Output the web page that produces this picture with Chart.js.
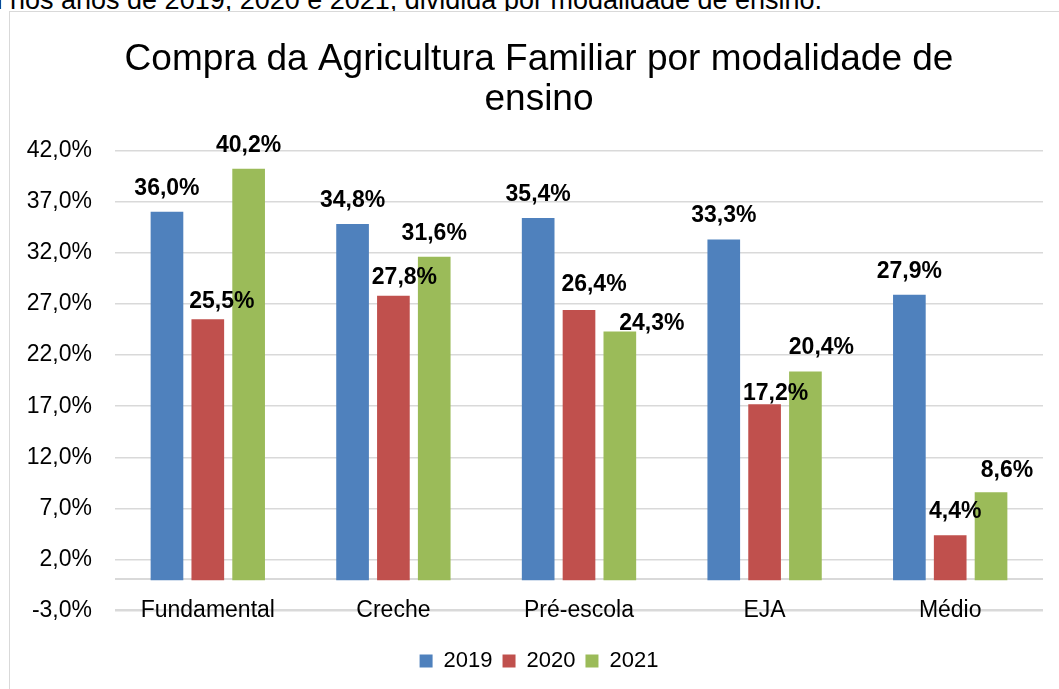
<!DOCTYPE html>
<html>
<head>
<meta charset="utf-8">
<script src="https://cdn.jsdelivr.net/npm/chart.js@4.4.1/dist/chart.umd.min.js"></script>
<style>
  html, body { margin: 0; padding: 0; background: #fff; overflow: hidden; width: 1059px; height: 689px; }
  #caption { position: absolute; left: -20px; top: -15px; font: 27px "Liberation Sans", Arial, sans-serif; color: #000; white-space: nowrap; }
  #box { position: absolute; left: 9px; top: 11px; width: 1060px; height: 700px; border: 1px solid #d9d9d9; background: #fff; }
  #chart { display: block; }
</style>
</head>
<body>
<div id="caption">m nos anos de 2019, 2020 e 2021, dividida por modalidade de ensino.</div>
<div id="box"><canvas id="chart" width="1058" height="678"></canvas></div>
<script>
const categories = ["Fundamental", "Creche", "Pré-escola", "EJA", "Médio"];
const years = ["2019", "2020", "2021"];
const values2019 = [36.0, 34.8, 35.4, 33.3, 27.9];
const values2020 = [25.5, 27.8, 26.4, 17.2, 4.4];
const values2021 = [40.2, 31.6, 24.3, 20.4, 8.6];
const yTicks = [-3, 2, 7, 12, 17, 22, 27, 32, 37, 42];

const colors = ['#4f81bd', '#c0504d', '#9bbb59'];
const FONT = '"Liberation Sans", Arial, sans-serif';

// label nudges (dx, dy) like the hand-placed excel labels
const nudge = [
  [[0, 0], [0, 0], [0, 0], [0, 0], [0, 0]],
  [[14, 6], [11, 5], [15, -2], [11, 13], [5, 0]],
  [[0, 0], [0, 0], [32, 15], [16, 0], [16, 2]]
];

const fmt = v => v.toFixed(1).replace('.', ',') + '%';

function hLine(chart, value, width, color) {
  const { ctx, chartArea, scales } = chart;
  const y = Math.round(scales.y.getPixelForValue(value)) - 1;
  ctx.save();
  ctx.strokeStyle = color;
  ctx.lineWidth = width;
  ctx.beginPath();
  ctx.moveTo(chartArea.left, y);
  ctx.lineTo(chartArea.right, y);
  ctx.stroke();
  ctx.restore();
}

// zero baseline and the -3% gridline
const extraLines = {
  id: 'extraLines',
  beforeDatasetsDraw(chart) {
    hLine(chart, 0, 2, '#d9d9d9');
    hLine(chart, yTicks[0], 2, '#d9d9d9');
  }
};

// category names sit on the -3% gridline, as in the excel chart
const categoryLabels = {
  id: 'categoryLabels',
  afterDraw(chart) {
    const { ctx, scales } = chart;
    const y = scales.y.getPixelForValue(yTicks[0]) + 6;
    ctx.save();
    ctx.font = '23px ' + FONT;
    ctx.fillStyle = '#000';
    ctx.textAlign = 'center';
    ctx.textBaseline = 'alphabetic';
    chart.data.labels.forEach((lab, i) => {
      ctx.fillText(lab, scales.x.getPixelForValue(i), y);
    });
    ctx.restore();
  }
};

const barLabels = {
  id: 'barLabels',
  afterDatasetsDraw(chart) {
    const ctx = chart.ctx;
    ctx.save();
    ctx.font = 'bold 23px ' + FONT;
    ctx.fillStyle = '#000';
    ctx.textAlign = 'center';
    ctx.textBaseline = 'alphabetic';
    chart.data.datasets.forEach((ds, i) => {
      chart.getDatasetMeta(i).data.forEach((bar, j) => {
        const [dx, dy] = nudge[i][j];
        ctx.fillText(fmt(ds.data[j]), bar.x + dx, bar.y - 17 + dy);
      });
    });
    ctx.restore();
  }
};

new Chart(document.getElementById('chart').getContext('2d'), {
  type: 'bar',
  data: {
    labels: categories,
    datasets: [
      { label: years[0], data: values2019, backgroundColor: colors[0] },
      { label: years[1], data: values2020, backgroundColor: colors[1] },
      { label: years[2], data: values2021, backgroundColor: colors[2] }
    ]
  },
  options: {
    responsive: false,
    animation: false,
    datasets: { bar: { barPercentage: 0.8, categoryPercentage: 0.66 } },
    layout: { padding: { left: 0, right: 0, top: 0, bottom: 8 } },
    plugins: {
      title: {
        display: true,
        text: ['Compra da Agricultura Familiar por modalidade de', 'ensino'],
        color: '#000',
        font: { family: FONT, size: 37, weight: 'normal', lineHeight: 1.1 },
        padding: { top: 27, bottom: 30 }
      },
      legend: {
        position: 'bottom',
        labels: {
          color: '#000',
          font: { family: FONT, size: 22 },
          boxWidth: 13,
          boxHeight: 13,
          padding: 10
        }
      },
      tooltip: { enabled: false }
    },
    scales: {
      x: {
        grid: { display: false },
        border: { display: false },
        ticks: { display: false },
        afterFit(scale) { scale.height = 26; }
      },
      y: {
        min: -3.3,
        max: 42,
        afterFit(scale) { scale.width = 105; },
        afterBuildTicks(scale) { scale.ticks = yTicks.map(v => ({ value: v })); },
        grid: { color: '#d9d9d9', lineWidth: 1.5, drawTicks: false },
        border: { display: false },
        ticks: { color: '#000', font: { family: FONT, size: 23 }, padding: 23, callback: v => fmt(v) }
      },
      spacer: {
        position: 'right',
        grid: { display: false },
        border: { display: false },
        ticks: { display: false },
        afterFit(scale) { scale.width = 25; }
      }
    }
  },
  plugins: [extraLines, barLabels, categoryLabels]
});
</script>
</body>
</html>
